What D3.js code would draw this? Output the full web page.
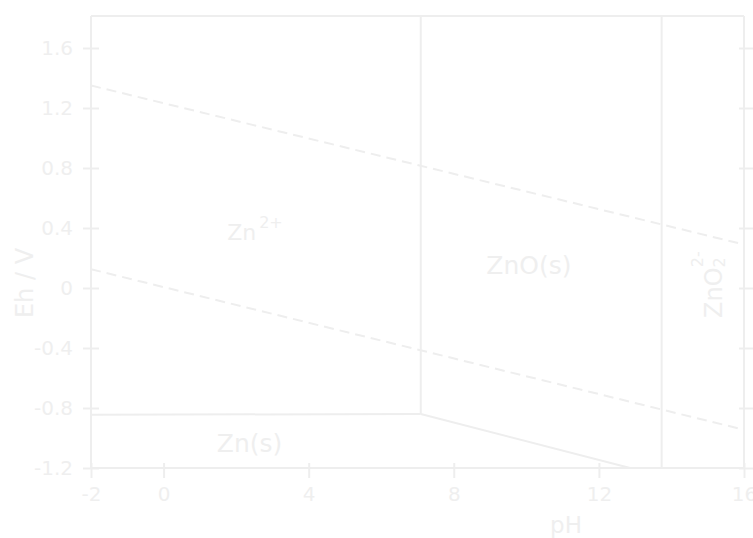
<!DOCTYPE html>
<html>
<head>
<meta charset="utf-8">
<script src="https://cdn.jsdelivr.net/npm/d3@7"></script>
<style>
  html, body { margin: 0; padding: 0; background: #ffffff; }
  svg { display: block; }
</style>
</head>
<body>
<svg id="chart" width="753" height="538"></svg>
<script>
// ---- data ----
const xTicks = [-2, 0, 4, 8, 12, 16];
const yTicks = [-1.2, -0.8, -0.4, 0, 0.4, 0.8, 1.2, 1.6];
const xTickLabels = ["-2", "0", "4", "8", "12", "16"];
const yTickLabels = ["-1.2", "-0.8", "-0.4", "0", "0.4", "0.8", "1.2", "1.6"];

// water stability lines (dashed): [pH, Eh]
const waterUpper = [[-2, 1.35], [16, 0.29]];
const waterLower = [[-2, 0.125], [16, -0.945]];
// phase boundaries (solid): [pH, Eh]
const znIonZnS = [[-2, -0.845], [7.09, -0.84]];
const znIonZnO = [[7.09, 1.82], [7.09, -0.84]];
const znoZnS = [[7.09, -0.84], [12.86, -1.2]];
const znoZincate = [[13.73, 1.82], [13.73, -1.2]];

const regionLabels = [
  { name: "Zn", sup: "2+", pH: 2.52, eh: 0.32, size: 22 },
  { name: "ZnO(s)", sup: "", pH: 10.07, eh: 0.093, size: 25 },
  { name: "Zn(s)", sup: "", pH: 2.37, eh: -1.093, size: 25 }
];
const zincate = { name: "ZnO", sub: "2", sup: "2-", pH: 15.4, eh: -0.2 };

// ---- layout ----
const LINE = "#eeeeee";
const TEXT = "#efefef";
const FONT = "'DejaVu Sans', Verdana, sans-serif";
const svg = d3.select("#chart");
const mLeft = 91, mRight = 744, mTop = 16, mBottom = 468;

const x = d3.scaleLinear().domain([-2, 16]).range([mLeft, mRight]);
const y = d3.scaleLinear().domain([-1.2, 1.6]).range([mBottom, 48]);

svg.append("clipPath").attr("id", "plotclip")
  .append("rect").attr("x", mLeft).attr("y", mTop).attr("width", mRight - mLeft).attr("height", mBottom - mTop);

// frame: top border
svg.append("line").attr("x1", mLeft).attr("x2", mRight).attr("y1", mTop).attr("y2", mTop)
  .attr("stroke", LINE).attr("stroke-width", 2);

function styleAxis(g) {
  g.select(".domain").attr("stroke", LINE).attr("stroke-width", 2);
  g.selectAll(".tick line").attr("stroke", LINE).attr("stroke-width", 2);
  g.selectAll(".tick text").attr("fill", TEXT).attr("font-family", FONT).attr("font-size", 20);
}

const gx = svg.append("g").attr("transform", `translate(0,${mBottom})`)
  .call(d3.axisBottom(x).tickValues(xTicks).tickFormat((d, i) => xTickLabels[i]).tickSize(10).tickSizeOuter(0).tickPadding(9));
styleAxis(gx);
gx.select(".domain").attr("d", `M${mLeft},0H${mRight}`);
gx.selectAll(".tick line").attr("y1", -5).attr("y2", 10);

const gy = svg.append("g").attr("transform", `translate(${mLeft},0)`)
  .call(d3.axisLeft(y).tickValues(yTicks).tickFormat((d, i) => yTickLabels[i]).tickSize(8).tickSizeOuter(0).tickPadding(10));
styleAxis(gy);
gy.select(".domain").attr("d", `M0,${mTop}V${mBottom}`);
gy.selectAll(".tick line").attr("x1", 8).attr("x2", -8);

const gr = svg.append("g").attr("transform", `translate(${mRight},0)`)
  .call(d3.axisRight(y).tickValues(yTicks).tickFormat("").tickSize(8).tickSizeOuter(0));
styleAxis(gr);
gr.select(".domain").attr("d", `M0,${mTop}V${mBottom}`);
gr.selectAll(".tick line").attr("x1", -5).attr("x2", 9);

// lines
const line = d3.line().x(d => x(d[0])).y(d => y(d[1]));
const plot = svg.append("g").attr("clip-path", "url(#plotclip)");
[waterUpper, waterLower].forEach(d => {
  plot.append("path").attr("d", line(d)).attr("fill", "none")
    .attr("stroke", LINE).attr("stroke-width", 2).attr("stroke-dasharray", "10,6");
});
[znIonZnS, znIonZnO, znoZnS, znoZincate].forEach(d => {
  plot.append("path").attr("d", line(d)).attr("fill", "none")
    .attr("stroke", LINE).attr("stroke-width", 2);
});

// region labels
regionLabels.forEach(r => {
  const t = svg.append("text").attr("x", x(r.pH)).attr("y", y(r.eh))
    .attr("text-anchor", "middle").attr("fill", TEXT)
    .attr("font-family", FONT).attr("font-size", r.size);
  t.append("tspan").text(r.name);
  if (r.sup) t.append("tspan").attr("font-size", 16).attr("dy", -12).attr("dx", 3).text(r.sup);
});

// zincate label (rotated)
const zt = svg.append("text")
  .attr("transform", `translate(${x(zincate.pH)},${y(zincate.eh)}) rotate(-90)`)
  .attr("text-anchor", "start").attr("fill", TEXT)
  .attr("font-family", FONT).attr("font-size", 24);
zt.append("tspan").text(zincate.name);
zt.append("tspan").attr("font-size", 16).attr("dy", 3).text(zincate.sub);
zt.append("tspan").attr("font-size", 16).attr("dy", -22).attr("dx", -10).text(zincate.sup);

// axis titles
svg.append("text").attr("x", 566).attr("y", 533).attr("text-anchor", "middle")
  .attr("fill", TEXT).attr("font-family", FONT).attr("font-size", 23).text("pH");
svg.append("text").attr("transform", `translate(33,283) rotate(-90)`)
  .attr("text-anchor", "middle").attr("fill", TEXT).attr("font-family", FONT)
  .attr("font-size", 24).text("Eh / V");
</script>
</body>
</html>
